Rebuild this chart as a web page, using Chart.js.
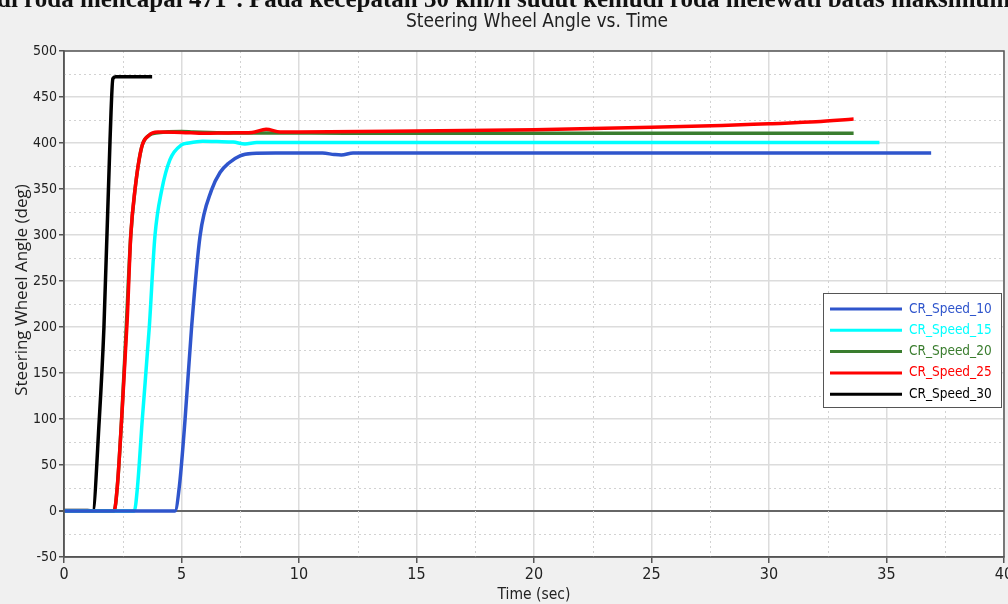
<!DOCTYPE html>
<html>
<head>
<meta charset="utf-8">
<script src="https://cdn.jsdelivr.net/npm/chart.js@4.4.0/dist/chart.umd.min.js"></script>
<style>
html, body { margin: 0; padding: 0; background: #f0f0f0; overflow: hidden; }
#wrap { position: relative; width: 1008px; height: 604px; }
#chart { position: absolute; left: 0; top: 0; }
#caption { position: absolute; left: -3px; top: -15px; font: bold 25px 'Liberation Serif', serif; white-space: nowrap; color: #111; z-index: 2; }
</style>
</head>
<body>
<div id="wrap">
<canvas id="chart" width="1008" height="604"></canvas>
<div id="caption">di roda mencapai 471°. Pada kecepatan 30 km/h sudut kemudi roda melewati batas maksimum</div>
</div>
<script>
const NARROW = "'Liberation Sans Narrow', 'DejaVu Sans Condensed', 'Open Sans', sans-serif";

const chartTitle = 'Steering Wheel Angle vs. Time';
const yTitle = 'Steering Wheel Angle (deg)';
const seriesNames = ["CR_Speed_10", "CR_Speed_15", "CR_Speed_20", "CR_Speed_25", "CR_Speed_30"];
const seriesColors = ["#2f55cc", "#00ffff", "#3a7d2e", "#ff0000", "#000000"];

// time (sec) / steering angle (deg)
const speed10Time  = [0, 4.72, 4.91, 5.15, 5.43, 5.79, 6.28, 6.64, 7.0, 7.49, 8.0, 9, 10, 11, 11.5, 11.8, 12.3, 13, 15, 20, 25, 30, 35, 36.9];
const speed10Angle = [0, 0, 27, 99, 200, 299, 349, 368, 378, 386, 388.5, 389, 389, 389, 387.5, 387, 389, 389, 389, 389, 389, 389, 389, 389];

const speed15Time  = [0, 2.99, 3.13, 3.33, 3.63, 3.87, 4.16, 4.51, 5.0, 5.3, 5.9, 6.5, 7.2, 7.7, 8.2, 9, 10, 15, 20, 25, 30, 34.7];
const speed15Angle = [0, 0, 27, 99, 200, 299, 349, 382, 398, 400, 402, 401.5, 401, 399, 400.5, 400.5, 400.5, 400.5, 400.5, 400.5, 400.5, 400.5];

const speed20Time  = [0, 2.13, 2.27, 2.45, 2.65, 2.84, 3.02, 3.3, 3.6, 4.0, 5.0, 5.5, 7, 9, 12, 15, 20, 25, 30, 33.6];
const speed20Angle = [0, 0, 27, 99, 200, 299, 349, 395, 408, 411, 412.5, 412, 411, 411, 410.5, 410.5, 410.5, 410.5, 410.5, 410.5];

const speed25Time  = [0, 2.13, 2.27, 2.45, 2.69, 2.84, 3.02, 3.3, 3.6, 4.0, 5, 6, 7, 8, 8.6, 9.2, 10, 15, 20, 25, 28, 30, 32, 33.6];
const speed25Angle = [0, 0, 27, 99, 208, 299, 349, 395, 408, 412, 411.5, 410.5, 411, 411.5, 415, 412, 412, 413, 414.5, 417, 419, 421, 423, 426];

const speed30Time  = [0, 1.0, 1.22, 1.5, 1.7, 1.96, 2.08, 2.2, 3.75];
const speed30Angle = [0.5, 0.5, 0, 99, 200, 404, 470, 472, 472];

const allTimes  = [speed10Time, speed15Time, speed20Time, speed25Time, speed30Time];
const allAngles = [speed10Angle, speed15Angle, speed20Angle, speed25Angle, speed30Angle];

function toPoints(times, angles) {
    return times.map((t, i) => ({ x: t, y: angles[i] }));
}

const plotDecor = {
    id: 'plotDecor',
    beforeDraw(chart) {
        const { ctx, chartArea: a } = chart;
        ctx.save();
        ctx.fillStyle = '#ffffff';
        ctx.fillRect(a.left, a.top, a.right - a.left, a.bottom - a.top);
        ctx.restore();
    },
    beforeDatasetsDraw(chart) {
        // dotted minor grid
        const { ctx, chartArea: a, scales } = chart;
        ctx.save();
        ctx.strokeStyle = '#d2d2d2';
        ctx.lineWidth = 1;
        ctx.setLineDash([2, 3]);
        for (let v = -25; v < 500; v += 50) {
            const y = Math.round(scales.y.getPixelForValue(v)) + 0.5;
            ctx.beginPath(); ctx.moveTo(a.left, y); ctx.lineTo(a.right, y); ctx.stroke();
        }
        for (let v = 2.5; v < 40; v += 5) {
            const x = Math.round(scales.x.getPixelForValue(v)) + 0.5;
            ctx.beginPath(); ctx.moveTo(x, a.top); ctx.lineTo(x, a.bottom); ctx.stroke();
        }
        ctx.restore();
    },
    afterDraw(chart) {
        const { ctx, chartArea: a } = chart;
        ctx.save();
        // frame
        ctx.strokeStyle = '#555555';
        ctx.lineWidth = 1.5;
        ctx.strokeRect(a.left, a.top, a.right - a.left, a.bottom - a.top);

        // chart title, centred on the plot
        ctx.fillStyle = '#222';
        ctx.font = "19px " + NARROW;
        ctx.textAlign = 'center';
        ctx.textBaseline = 'middle';
        ctx.fillText(chartTitle, (a.left + a.right) / 2 + 3, 22);

        // y axis title
        ctx.translate(22, 290);
        ctx.rotate(-Math.PI / 2);
        ctx.font = "17px 'Open Sans', sans-serif";
        ctx.fillText(yTitle, 0, 0);
        ctx.restore();

        // legend box
        ctx.save();
        const bx = a.right - 181, by = 293, bw = 178, bh = 114;
        ctx.fillStyle = '#ffffff';
        ctx.fillRect(bx, by, bw, bh);
        ctx.strokeStyle = '#555555';
        ctx.lineWidth = 1;
        ctx.strokeRect(bx + 0.5, by + 0.5, bw, bh);
        ctx.font = "13.5px " + NARROW;
        ctx.textBaseline = 'middle';
        chart.data.datasets.forEach((ds, i) => {
            const y = by + 16 + i * 21.3;
            ctx.strokeStyle = ds.borderColor;
            ctx.lineWidth = 3;
            ctx.beginPath(); ctx.moveTo(bx + 7, y); ctx.lineTo(bx + 79, y); ctx.stroke();
            ctx.fillStyle = ds.borderColor;
            ctx.fillText(ds.label, bx + 86, y);
        });
        ctx.restore();
    }
};

const datasets = seriesNames.map((name, i) => ({
    label: name,
    data: toPoints(allTimes[i], allAngles[i]),
    borderColor: seriesColors[i],
    borderWidth: 3.5,
    pointRadius: 0,
    cubicInterpolationMode: 'monotone',
    order: i === 2 ? 1 : 0,
}));

new Chart(document.getElementById('chart'), {
    type: 'line',
    data: { datasets: datasets },
    options: {
        responsive: false,
        animation: false,
        layout: { autoPadding: false, padding: { left: 0, right: 4, top: 51, bottom: 0 } },
        plugins: {
            legend: { display: false },
            tooltip: { enabled: false },
            title: { display: false }
        },
        scales: {
            x: {
                type: 'linear',
                min: 0, max: 40,
                afterFit(scale) { scale.height = 47; scale.paddingLeft = 0; scale.paddingRight = 0; },
                ticks: { stepSize: 5, color: '#222', font: { family: NARROW, size: 16 }, padding: 2, maxRotation: 0 },
                grid: { color: '#dcdcdc', lineWidth: 1.5, tickColor: '#555', tickLength: 6 },
                border: { display: true, color: '#555', width: 1.5 },
                title: {
                    display: true,
                    text: 'Time (sec)',
                    color: '#222',
                    font: { family: NARROW, size: 15.5 },
                    padding: { top: 0, bottom: 0 }
                }
            },
            y: {
                min: -50, max: 500,
                afterFit(scale) { scale.width = 64; scale.paddingTop = 0; scale.paddingBottom = 0; },
                ticks: { stepSize: 50, color: '#222', font: { family: NARROW, size: 14 }, padding: 2 },
                grid: {
                    color: c => c.tick && c.tick.value === 0 ? '#666666' : '#dcdcdc',
                    lineWidth: c => c.tick && c.tick.value === 0 ? 2 : 1.5,
                    tickColor: '#555', tickLength: 5
                },
                border: { display: true, color: '#555', width: 1.5 }
            }
        }
    },
    plugins: [plotDecor]
});
</script>
</body>
</html>
